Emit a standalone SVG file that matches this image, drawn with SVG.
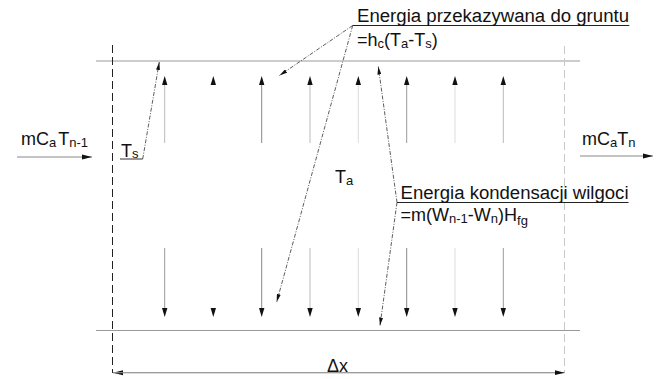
<svg xmlns="http://www.w3.org/2000/svg" width="661" height="379" viewBox="0 0 661 379">
<style>
text{font-family:"Liberation Sans",Arial,sans-serif;fill:#111;}
.lbl{font-size:18px;}
.sub{font-size:13px;}
.surf{stroke:#9a9a9a;stroke-width:1;fill:none;}
.lead{stroke:#333;stroke-width:0.8;stroke-dasharray:4 1.5 1 1.5;fill:none;}
.head{fill:#111;}
</style>
<defs>
<marker id="ah" markerUnits="userSpaceOnUse" markerWidth="10" markerHeight="6" refX="10" refY="3" orient="auto"><path d="M0,0.5 L10,3 L0,5.5 z" fill="#111"/></marker>
<marker id="lh" markerUnits="userSpaceOnUse" markerWidth="8" markerHeight="4" refX="8" refY="2" orient="auto"><path d="M0,0 L8,2 L0,4 z" fill="#111"/></marker>
<path id="up" d="M0,0 L2.7,9 L-2.7,9 z" class="head"/>
<path id="dn" d="M0,0 L2.7,-9 L-2.7,-9 z" class="head"/>
</defs>

<g id="surfaces">
<line class="surf" x1="96" y1="61" x2="580" y2="61"/>
<line class="surf" x1="96" y1="330.5" x2="580" y2="330.5"/>
<line x1="112.5" y1="45" x2="112.5" y2="373" stroke="#222" stroke-width="1" stroke-dasharray="8 4"/>
<line x1="564.5" y1="46" x2="564.5" y2="373" stroke="#c8c8c8" stroke-width="1" stroke-dasharray="8 4"/>
</g>

<g id="connectors">
<line x1="164.7" y1="143" x2="164.7" y2="85" stroke="#bbb"/>
<line x1="261.7" y1="143" x2="261.7" y2="85" stroke="#888"/>
<line x1="310" y1="143" x2="310" y2="85" stroke="#bbb"/>
<line x1="358.3" y1="143" x2="358.3" y2="85" stroke="#ddd"/>
<line x1="406.7" y1="143" x2="406.7" y2="85" stroke="#999"/>
<line x1="455" y1="143" x2="455" y2="85" stroke="#ddd"/>
<line x1="503.3" y1="143" x2="503.3" y2="85" stroke="#bbb"/>
<use href="#up" x="164.7" y="76"/>
<use href="#up" x="213.3" y="76"/>
<use href="#up" x="261.7" y="76"/>
<use href="#up" x="310" y="76"/>
<use href="#up" x="358.3" y="76"/>
<use href="#up" x="406.7" y="76"/>
<use href="#up" x="455" y="76"/>
<use href="#up" x="503.3" y="76"/>
<line x1="164.7" y1="248" x2="164.7" y2="308" stroke="#999"/>
<line x1="261.7" y1="248" x2="261.7" y2="308" stroke="#888"/>
<line x1="310" y1="248" x2="310" y2="308" stroke="#bbb"/>
<line x1="358.3" y1="248" x2="358.3" y2="308" stroke="#ddd"/>
<line x1="406.7" y1="248" x2="406.7" y2="308" stroke="#888"/>
<line x1="455" y1="248" x2="455" y2="308" stroke="#ddd"/>
<line x1="503.3" y1="248" x2="503.3" y2="308" stroke="#999"/>
<use href="#dn" x="164.7" y="317"/>
<use href="#dn" x="213.3" y="317"/>
<use href="#dn" x="261.7" y="317"/>
<use href="#dn" x="310" y="317"/>
<use href="#dn" x="358.3" y="317"/>
<use href="#dn" x="406.7" y="317"/>
<use href="#dn" x="455" y="317"/>
<use href="#dn" x="503.3" y="317"/>
<line x1="17" y1="157" x2="92" y2="157" stroke="#888" marker-end="url(#ah)"/>
<line x1="580" y1="156" x2="653" y2="156" stroke="#888" marker-end="url(#ah)"/>
<line x1="564.5" y1="372.7" x2="113" y2="372.7" stroke="#999" marker-end="url(#ah)"/>
<line x1="113" y1="372.7" x2="564.5" y2="372.7" stroke="#999" marker-end="url(#ah)"/>
<line x1="120" y1="159" x2="142.7" y2="159" stroke="#333" stroke-width="1"/>
<line class="lead" x1="142.7" y1="159" x2="159.3" y2="62" marker-end="url(#lh)"/>
<line class="lead" x1="352.7" y1="25.5" x2="279.5" y2="75.5" marker-end="url(#lh)"/>
<line class="lead" x1="352.7" y1="25.5" x2="276.7" y2="302" marker-end="url(#lh)"/>
<line class="lead" x1="397" y1="202.5" x2="378.3" y2="66.5" marker-end="url(#lh)"/>
<line class="lead" x1="397" y1="202.5" x2="380" y2="325.5" marker-end="url(#lh)"/>
<line x1="352.7" y1="25.5" x2="629.3" y2="25.5" stroke="#222" stroke-width="1"/>
<line x1="397" y1="202.5" x2="628.5" y2="202.5" stroke="#222" stroke-width="1"/>
</g>

<g id="label-inflow">
<text class="lbl" x="21" y="145">mC<tspan class="sub" dy="2">a</tspan><tspan dx="2" dy="-2">T</tspan><tspan class="sub" dy="2">n-1</tspan></text>
</g>
<g id="label-outflow">
<text class="lbl" x="582" y="145">mC<tspan class="sub" dy="2">a</tspan><tspan dy="-2">T</tspan><tspan class="sub" dy="2">n</tspan></text>
</g>
<g id="label-ts">
<text class="lbl" x="121" y="156.5">T<tspan class="sub" dy="1.5">s</tspan></text>
</g>
<g id="label-ta">
<text class="lbl" x="335" y="183">T<tspan class="sub" dy="2">a</tspan></text>
</g>
<g id="label-ground">
<text class="lbl" x="357" y="21.5" textLength="272" lengthAdjust="spacingAndGlyphs">Energia przekazywana do gruntu</text>
<text class="lbl" x="357" y="46">=h<tspan class="sub" dy="2">c</tspan><tspan dy="-2">(T</tspan><tspan class="sub" dy="2">a</tspan><tspan dy="-2">-T</tspan><tspan class="sub" dy="2">s</tspan><tspan dy="-2">)</tspan></text>
</g>
<g id="label-condensation">
<text class="lbl" x="400.5" y="198.5" textLength="228" lengthAdjust="spacingAndGlyphs">Energia kondensacji wilgoci</text>
<text class="lbl" x="400.5" y="221">=m(W<tspan class="sub" dy="2">n-1</tspan><tspan dy="-2">-W</tspan><tspan class="sub" dy="2">n</tspan><tspan dy="-2">)H</tspan><tspan class="sub" dy="4">fg</tspan></text>
</g>
<g id="label-dx">
<text class="lbl" x="327" y="371.5">Δx</text>
</g>
</svg>
